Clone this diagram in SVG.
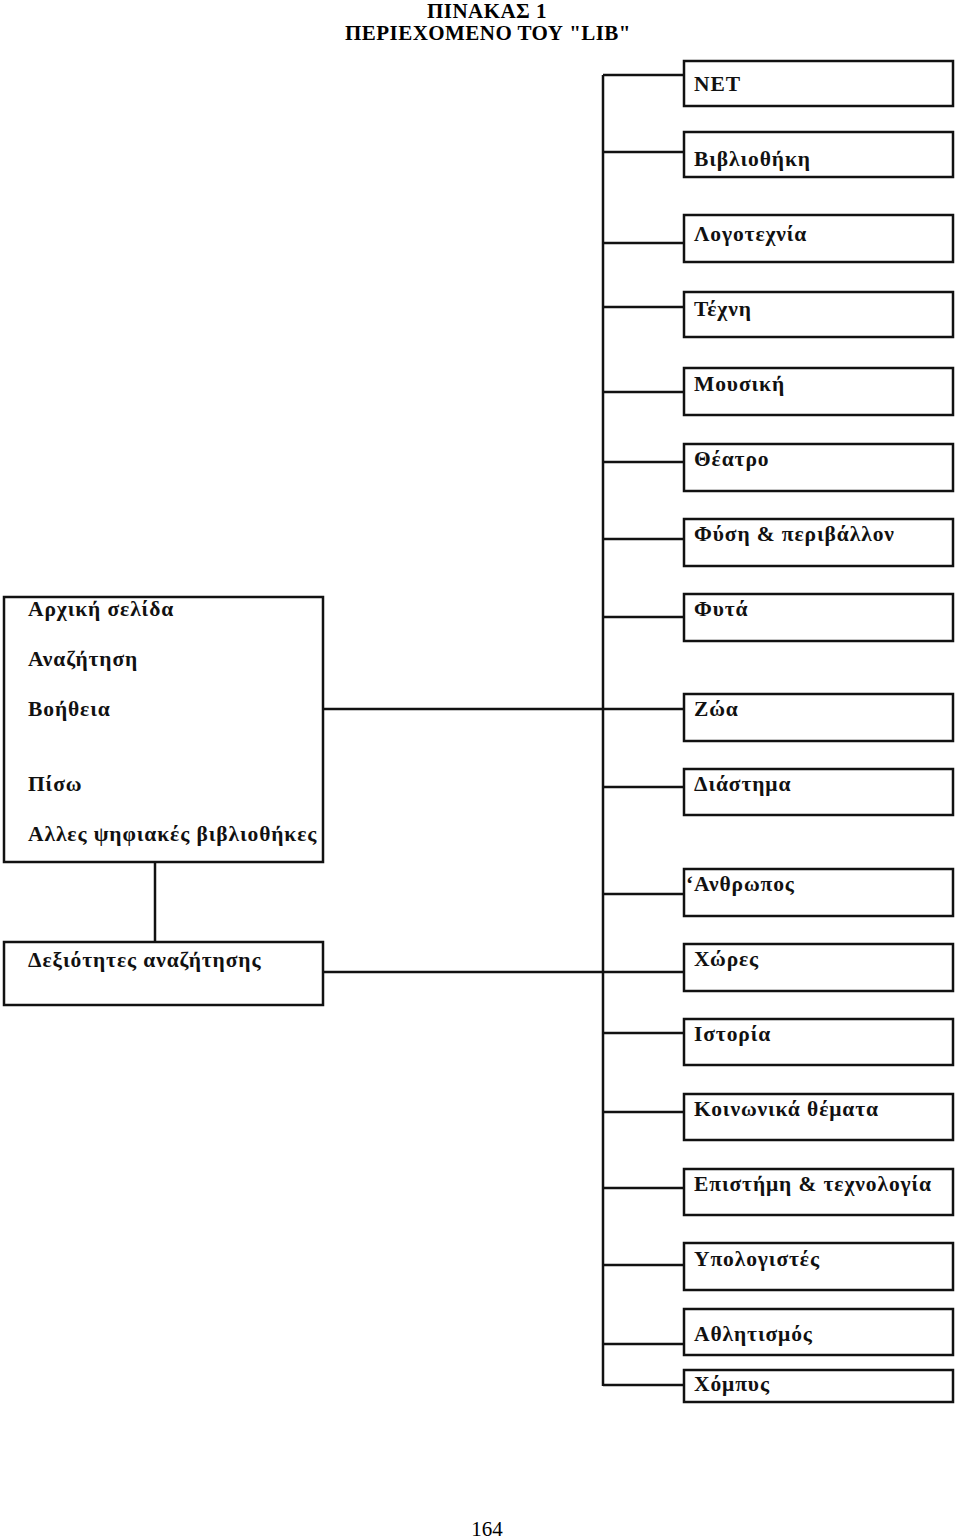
<svg xmlns="http://www.w3.org/2000/svg" width="960" height="1540" viewBox="0 0 960 1540">
<style>
.box{fill:#fff;stroke:#111;stroke-width:2.5}
.t{font-family:"Liberation Serif","Times New Roman",serif;font-weight:bold;font-size:21.5px;letter-spacing:0.9px;fill:#111}
.title{font-family:"Liberation Serif","Times New Roman",serif;font-weight:bold;font-size:21px;letter-spacing:0.45px;fill:#000;text-anchor:middle}
.pg{font-family:"Liberation Serif","Times New Roman",serif;font-size:21px;fill:#000;text-anchor:middle}
.c{stroke:#111;stroke-width:2.5;fill:none}
</style>
<rect width="960" height="1540" fill="#fff"/>
<text class="title" x="487" y="18">ΠΙΝΑΚΑΣ 1</text>
<text class="title" x="488" y="40">ΠΕΡΙΕΧΟΜΕΝΟ ΤΟΥ "LIB"</text>
<g id="connectors">
<path class="c" d="M603 75 V1386"/>
<path class="c" d="M603 75 H684"/>
<path class="c" d="M603 152 H684"/>
<path class="c" d="M603 243 H684"/>
<path class="c" d="M603 307 H684"/>
<path class="c" d="M603 392 H684"/>
<path class="c" d="M603 462 H684"/>
<path class="c" d="M603 539 H684"/>
<path class="c" d="M603 617 H684"/>
<path class="c" d="M323 709 H684"/>
<path class="c" d="M603 787 H684"/>
<path class="c" d="M603 894 H684"/>
<path class="c" d="M323 972 H684"/>
<path class="c" d="M603 1033 H684"/>
<path class="c" d="M603 1112 H684"/>
<path class="c" d="M603 1188 H684"/>
<path class="c" d="M603 1265 H684"/>
<path class="c" d="M603 1344 H684"/>
<path class="c" d="M603 1385 H684"/>
<path class="c" d="M155 862 V942"/>
</g>
<g id="menu">
<rect class="box" x="4" y="597" width="319" height="265"/>
<text class="t" x="28" y="616">Αρχική σελίδα</text>
<text class="t" x="28" y="666">Αναζήτηση</text>
<text class="t" x="28" y="716">Βοήθεια</text>
<text class="t" x="28" y="791">Πίσω</text>
<text class="t" x="28" y="841">Αλλες ψηφιακές βιβλιοθήκες</text>
</g>
<g id="skills">
<rect class="box" x="4" y="942" width="319" height="63"/>
<text class="t" x="28" y="967">Δεξιότητες αναζήτησης</text>
</g>
<g id="n-net"><rect class="box" x="684" y="61" width="269" height="45"/><text class="t" x="694" y="91">NET</text></g>
<g id="n-vivliothiki"><rect class="box" x="684" y="132" width="269" height="45"/><text class="t" x="694" y="166">Βιβλιοθήκη</text></g>
<g id="n-logotechnia"><rect class="box" x="684" y="215" width="269" height="47"/><text class="t" x="694" y="241">Λογοτεχνία</text></g>
<g id="n-techni"><rect class="box" x="684" y="292" width="269" height="45"/><text class="t" x="694" y="316">Τέχνη</text></g>
<g id="n-mousiki"><rect class="box" x="684" y="368" width="269" height="47"/><text class="t" x="694" y="391">Μουσική</text></g>
<g id="n-theatro"><rect class="box" x="684" y="444" width="269" height="47"/><text class="t" x="694" y="466">Θέατρο</text></g>
<g id="n-fysi"><rect class="box" x="684" y="519" width="269" height="47"/><text class="t" x="694" y="541">Φύση &amp; περιβάλλον</text></g>
<g id="n-fyta"><rect class="box" x="684" y="594" width="269" height="47"/><text class="t" x="694" y="616">Φυτά</text></g>
<g id="n-zoa"><rect class="box" x="684" y="694" width="269" height="47"/><text class="t" x="694" y="716">Ζώα</text></g>
<g id="n-diastima"><rect class="box" x="684" y="769" width="269" height="46"/><text class="t" x="694" y="791">Διάστημα</text></g>
<g id="n-anthropos"><rect class="box" x="684" y="869" width="269" height="47"/><text class="t" x="686" y="891">‘Ανθρωπος</text></g>
<g id="n-chores"><rect class="box" x="684" y="944" width="269" height="47"/><text class="t" x="694" y="966">Χώρες</text></g>
<g id="n-istoria"><rect class="box" x="684" y="1019" width="269" height="46"/><text class="t" x="694" y="1041">Ιστορία</text></g>
<g id="n-koinonika"><rect class="box" x="684" y="1094" width="269" height="46"/><text class="t" x="694" y="1116">Κοινωνικά θέματα</text></g>
<g id="n-epistimi"><rect class="box" x="684" y="1169" width="269" height="46"/><text class="t" x="694" y="1191">Επιστήμη &amp; τεχνολογία</text></g>
<g id="n-ypologistes"><rect class="box" x="684" y="1243" width="269" height="47"/><text class="t" x="694" y="1266">Υπολογιστές</text></g>
<g id="n-athlitismos"><rect class="box" x="684" y="1309" width="269" height="46"/><text class="t" x="694" y="1341">Αθλητισμός</text></g>
<g id="n-chobys"><rect class="box" x="684" y="1370" width="269" height="32"/><text class="t" x="694" y="1391">Χόμπυς</text></g>
<text class="pg" x="487" y="1536">164</text>
</svg>
